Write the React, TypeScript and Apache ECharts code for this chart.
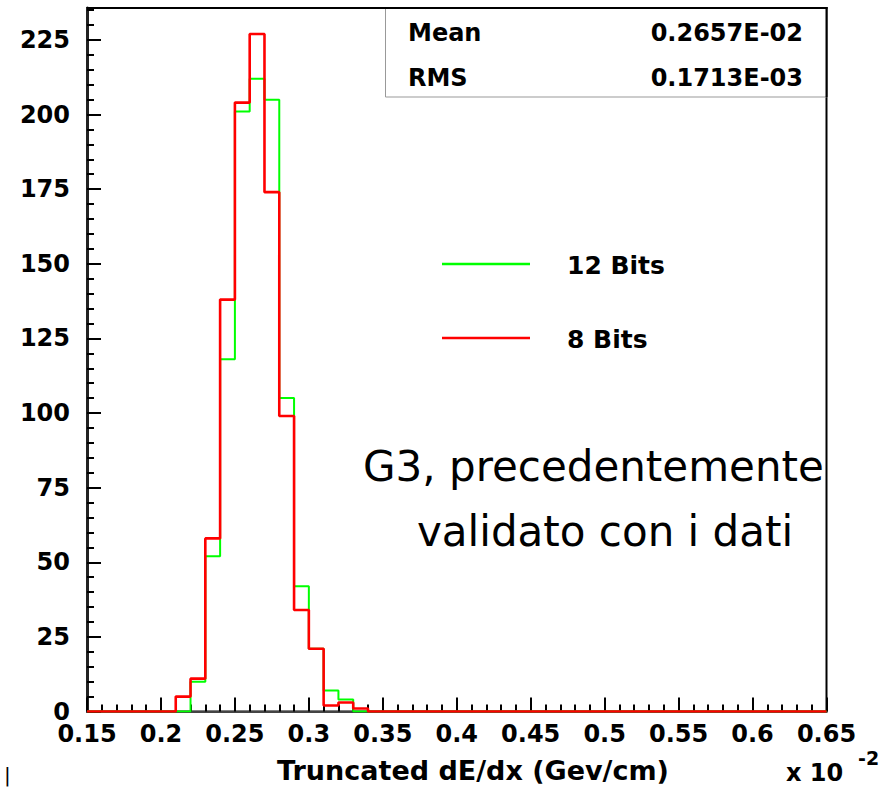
import { useEffect, useRef } from 'react';
import * as echarts from 'echarts';

// Histogram bins (lower edges), width 0.01 (x 10^-2 Gev/cm)
const binLowEdges = [
  0.15, 0.16, 0.17, 0.18, 0.19, 0.2, 0.21, 0.22, 0.23, 0.24,
  0.25, 0.26, 0.27, 0.28, 0.29, 0.3, 0.31, 0.32, 0.33, 0.34,
  0.35, 0.36, 0.37, 0.38, 0.39, 0.4, 0.41, 0.42, 0.43, 0.44,
  0.45, 0.46, 0.47, 0.48, 0.49, 0.5, 0.51, 0.52, 0.53, 0.54,
  0.55, 0.56, 0.57, 0.58, 0.59, 0.6, 0.61, 0.62, 0.63, 0.64,
];
const lastBinUpperEdge = 0.65;

const counts12Bits = [
  0, 0, 0, 0, 0, 0, 0, 10, 52, 118,
  201, 212, 205, 105, 42, 21, 7, 4, 0, 0,
  0, 0, 0, 0, 0, 0, 0, 0, 0, 0,
  0, 0, 0, 0, 0, 0, 0, 0, 0, 0,
  0, 0, 0, 0, 0, 0, 0, 0, 0, 0,
];
const counts8Bits = [
  0, 0, 0, 0, 0, 0, 5, 11, 58, 138,
  204, 227, 174, 99, 34, 21, 2, 3, 1, 0,
  0, 0, 0, 0, 0, 0, 0, 0, 0, 0,
  0, 0, 0, 0, 0, 0, 0, 0, 0, 0,
  0, 0, 0, 0, 0, 0, 0, 0, 0, 0,
];

const xMin = 0.15;
const xMax = 0.65;
const xInterval = 0.05;
const yMin = 0;
const yMax = 235.7;
const yMajorInterval = 25;
const yMinorInterval = 5;

const seriesNames = ['12 Bits', '8 Bits'];
const statsLabels = ['Mean', 'RMS'];
const statsValues = ['0.2657E-02', '0.1713E-03'];
const annotationLines = ['G3, precedentemente', 'validato con i dati'];
const xAxisTitle = 'Truncated dE/dx (Gev/cm)';

const FONT = 'DejaVu Sans';

function histPoints(counts: number[]) {
  const pts: [number, number][] = binLowEdges.map((x, i) => [x, counts[i]]);
  pts.push([lastBinUpperEdge, counts[counts.length - 1]]);
  return pts;
}

function txt(
  text: string,
  x: number,
  y: number,
  size: number,
  weight: string,
  align: string = 'left',
  z = 110,
) {
  return {
    type: 'text',
    x,
    y,
    z,
    style: {
      text,
      fontFamily: FONT,
      fontSize: size,
      fontWeight: weight,
      fill: '#000',
      align,
      verticalAlign: 'middle',
      textAlign: align,
      textVerticalAlign: 'middle',
    },
  };
}

export default function App() {
  const ref = useRef<HTMLDivElement>(null);

  useEffect(() => {
    if (!ref.current) return;
    const chart = echarts.init(ref.current, undefined, { renderer: 'svg' });

    const gridLeft = 87;
    const gridTop = 8;
    const gridRight = 890 - 826.5;
    const gridBottom = 789 - 711.5;

    const option: any = {
      animation: false,
      backgroundColor: '#fff',
      grid: {
        left: gridLeft,
        top: gridTop,
        right: gridRight,
        bottom: gridBottom,
        show: true,
        borderColor: '#000',
        borderWidth: 2,
        backgroundColor: 'transparent',
      },
      xAxis: {
        type: 'value',
        min: xMin,
        max: xMax,
        interval: xInterval,
        axisLine: { show: true, lineStyle: { color: '#444', width: 2 } },
        axisTick: { show: true, inside: true, length: 14, lineStyle: { color: '#000', width: 2 } },
        minorTick: { show: true, splitNumber: 5, length: 7, lineStyle: { color: '#000', width: 2 } },
        splitLine: { show: false },
        minorSplitLine: { show: false },
        axisLabel: {
          margin: 10,
          color: '#000',
          fontFamily: FONT,
          fontWeight: 'bold',
          fontSize: 24,
          formatter: (v: number) => String(Number(v.toFixed(2))),
        },
      },
      yAxis: [
        {
          type: 'value',
          position: 'left',
          min: yMin,
          max: yMax,
          interval: yMajorInterval,
          axisLine: { show: true, lineStyle: { color: '#222', width: 3 } },
          axisTick: { show: true, inside: true, length: 14, lineStyle: { color: '#000', width: 2 } },
          splitLine: { show: false },
          axisLabel: {
            margin: 17,
            color: '#000',
            fontFamily: FONT,
            fontWeight: 'bold',
            fontSize: 24,
            formatter: (v: number) =>
              Math.abs(v / yMajorInterval - Math.round(v / yMajorInterval)) < 1e-6 ? String(Math.round(v)) : '',
          },
        },
        {
          type: 'value',
          position: 'left',
          offset: 0,
          min: yMin,
          max: yMax,
          interval: yMinorInterval,
          axisLine: { show: false },
          axisTick: { show: true, inside: true, length: 7, lineStyle: { color: '#000', width: 2 } },
          splitLine: { show: false },
          axisLabel: { show: false },
        },
      ],
      series: [
        {
          name: seriesNames[0],
          type: 'line',
          step: 'end',
          yAxisIndex: 0,
          symbol: 'none',
          data: histPoints(counts12Bits),
          lineStyle: { color: '#00ff00', width: 2 },
          z: 3,
        },
        {
          name: seriesNames[1],
          type: 'line',
          step: 'end',
          yAxisIndex: 0,
          symbol: 'none',
          data: histPoints(counts8Bits),
          lineStyle: { color: '#ff0000', width: 2.6 },
          z: 4,
        },
      ],
      graphic: [
        // stats box
        {
          type: 'rect',
          z: 100,
          shape: { x: 385.5, y: 8, width: 441, height: 89 },
          style: { fill: '#fff', stroke: '#999', lineWidth: 1 },
        },
        {
          type: 'line',
          z: 101,
          shape: { x1: 385, y1: 8, x2: 827.5, y2: 8 },
          style: { stroke: '#000', lineWidth: 2 },
        },
        {
          type: 'line',
          z: 101,
          shape: { x1: 826.5, y1: 7, x2: 826.5, y2: 97 },
          style: { stroke: '#000', lineWidth: 2 },
        },
        txt(statsLabels[0], 408, 33, 24, 'bold'),
        txt(statsValues[0], 803, 33, 24, 'bold', 'right'),
        txt(statsLabels[1], 408, 78, 24, 'bold'),
        txt(statsValues[1], 803, 78, 24, 'bold', 'right'),
        // legend
        {
          type: 'line',
          z: 101,
          shape: { x1: 442, y1: 264, x2: 530, y2: 264 },
          style: { stroke: '#00ff00', lineWidth: 2.5 },
        },
        {
          type: 'line',
          z: 101,
          shape: { x1: 442, y1: 338, x2: 530, y2: 338 },
          style: { stroke: '#ff0000', lineWidth: 2.5 },
        },
        txt(seriesNames[0], 567, 265, 25, 'bold'),
        txt(seriesNames[1], 567, 339, 25, 'bold'),
        // annotation
        txt(annotationLines[0], 363, 466, 42, 'normal'),
        txt(annotationLines[1], 417, 531, 42, 'normal'),
        // axis title and exponent
        txt(xAxisTitle, 473, 770, 27, 'bold', 'center'),
        txt('x 10', 786, 773, 24, 'bold'),
        txt('-2', 858, 758, 19, 'bold'),
        txt('|', 4, 775, 20, 'normal'),
      ],
    };

    chart.setOption(option);
    return () => chart.dispose();
  }, []);

  return (
    <div
      ref={ref}
      style={{ position: 'fixed', left: 0, top: 0, width: 890, height: 789, background: '#fff' }}
    />
  );
}
